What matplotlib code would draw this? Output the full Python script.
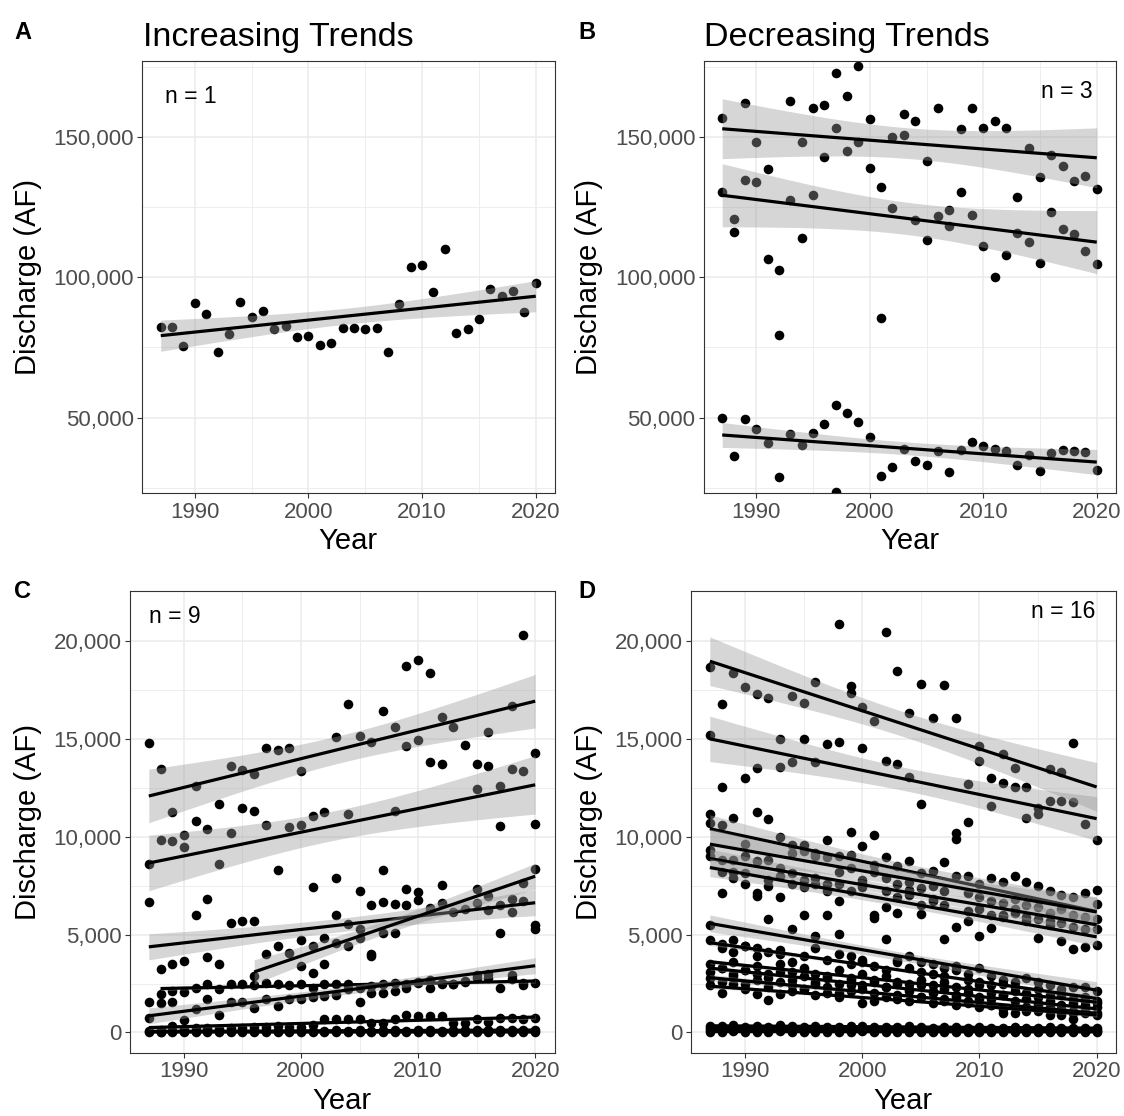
import numpy as np
import matplotlib
matplotlib.use("Agg")
import matplotlib.pyplot as plt
from matplotlib.ticker import FixedLocator, FuncFormatter

nan = float('nan')
YEARS = list(range(1987, 2021))

# ---------------- Panel A (acre-feet) ----------------
a_vals = [82400, 82400, 75500, 90850, 86940, 73400, 79900, 91100, 86000, 88000,
          81600, 82700, 78600, 79000, 75800, 76600, 82100, 81800, 81600, 81800,
          73400, 90400, 103800, 104500, 94900, 109900, 80000, 81500, 85000, 95700,
          93500, 95200, 87800, 98000]

# ---------------- Panel B (acre-feet) ----------------
b_top = [156600, 120700, 162000, 148300, 138400, 102500, 162900, 148200, 160100, 161400,
         172800, 164600, 175100, 156400, 132300, 149800, 158300, 155800, 141300, 160100,
         124000, 152800, 160200, 153300, 155800, 153100, 128600, 146100, 135600, 143500,
         139700, 134100, 136000, 131600]
b_mid = [130300, 116000, 134700, 134000, 106400, 79600, 127600, 113800, 129200, 142800,
         153200, 144800, 148000, 138800, 85400, 124700, 150600, 120400, 113200, 121700,
         118100, 130200, 122200, 111300, 100200, 108100, 115900, 112500, 105000, 123200,
         117100, 115400, 109500, 104800]
b_low = [50000, 36460, 49400, 45960, 41090, 28730, 44300, 40260, 44650, 47860,
         54510, 51780, 48460, 43230, 29090, 32300, 38950, 34560, 33250, 38000,
         30640, 38600, 41210, 40020, 38710, 38240, 33010, 36580, 30870, 37410,
         38360, 38120, 37650, 31350]
b_low_extra_years = [1997]
b_low_extra_vals = [23630]

# ---------------- Panel C (thousand acre-feet) ----------------
c1 = [14.77, 13.45, 11.27, 10.10, 12.60, 10.39, 11.68, 13.62, 13.41, 13.19,
      14.52, 14.43, 14.55, 13.33, 11.04, 11.24, 15.08, 16.78, 15.16, 14.86,
      16.44, 15.62, 18.71, 19.05, 18.34, 16.10, 15.62, 14.69, 13.70, 15.33,
      12.60, 16.70, 20.32, 14.30]
c2 = [8.61, 9.85, 9.76, 9.49, 10.82, 6.84, 8.61, 10.19, 11.46, 11.33,
      10.60, 8.32, 10.48, 10.60, 7.45, nan, 7.88, 11.17, 7.25, 6.49,
      8.32, 11.29, 14.64, 14.94, 13.80, 13.72, nan, nan, 12.43, 13.63,
      10.55, 13.45, 13.36, 10.65]
c3 = [6.67, 3.23, 3.51, 3.65, 5.99, 3.85, 3.51, 5.57, 5.69, 5.69,
      nan, nan, nan, 4.72, 4.41, 4.84, 5.99, 5.52, 5.26, 4.00,
      6.67, 6.54, 6.49, 6.76, 6.37, 6.62, 6.15, 6.32, 6.59, 6.25,
      nan, 6.15, 6.71, 5.47]
c4_years = list(range(1996, 2021))
c4 = [2.90, 3.99, 4.41, 4.07, 3.40, 3.06, 3.48, 4.58, 4.41, 4.84,
      3.90, 5.09, 5.09, 7.33, 7.18, 6.20, 7.52, nan, nan, 7.33,
      6.96, 6.49, 6.83, 7.64, 8.35]
c5_years = list(range(1988, 2021))
c5 = [1.95, 2.12, 2.09, 2.29, 2.50, 2.21, 2.46, 2.50, 2.43, 2.55,
      2.46, 2.43, 2.50, 2.29, 2.46, 2.46, 2.46, 2.29, 2.38, 2.50,
      2.55, 2.29, 2.55, 2.29, 2.50, 2.46, 2.63, 2.80, 2.80, 2.29,
      2.75, 2.55, 2.55]
c6 = [1.58, 1.48, 1.53, 0.63, 1.22, 1.70, 0.88, 1.53, 1.53, 1.27,
      1.73, 1.36, 1.70, 1.70, 1.83, 1.87, 1.90, 2.21, 1.53, 2.04,
      2.00, 2.12, 2.45, 2.60, 2.70, 2.55, 2.50, 2.60, 2.95, 3.00,
      5.09, 2.95, 2.40, 5.26]
c7 = [0.76, 0.15, 0.34, 0.20, 0.25, 0.25, 0.20, 0.25, 0.25, 0.30,
      0.30, 0.35, 0.30, 0.30, 0.40, 0.70, 0.70, 0.68, 0.68, 0.50,
      0.50, 0.68, 0.88, 0.84, 0.84, 0.84, 0.50, 0.50, 0.68, 0.55,
      0.72, 0.75, 0.70, 0.72]
c8 = [0.05, 0.03, 0.08, 0.05, 0.06, 0.10, 0.05, 0.07, 0.06, 0.08,
      0.05, 0.09, 0.07, 0.10, 0.08, 0.06, 0.10, 0.08, 0.12, 0.09,
      0.10, 0.12, 0.08, 0.10, 0.11, 0.09, 0.12, 0.10, 0.13, 0.11,
      0.10, 0.12, 0.14, 0.12]
c9 = [0.02, 0.01, 0.03, 0.02, 0.01, 0.02, 0.03, 0.02, 0.01, 0.02,
      0.03, 0.02, 0.02, 0.01, 0.03, 0.02, 0.02, 0.03, 0.02, 0.01,
      0.02, 0.03, 0.02, 0.02, 0.03, 0.02, 0.01, 0.02, 0.03, 0.02,
      0.02, 0.03, 0.02, 0.02]

# ---------------- Panel D (thousand acre-feet) ----------------
d1 = [18.68, 16.76, 18.37, 17.66, 17.27, 17.06, 14.99, 17.18, 16.84, 17.91,
      14.74, 20.88, 17.69, 16.60, 15.93, 20.44, 18.46, 16.33, 17.78, 16.08,
      17.73, 16.08, 12.68, 14.65, 13.02, 14.21, 13.53, 12.56, 11.46, 13.45,
      13.28, 14.80, 10.65, 9.81]
d2 = [15.18, 12.56, nan, 13.02, 13.53, nan, 13.58, 13.84, 15.01, 13.84,
      nan, 14.84, 17.32, 14.52, nan, 13.89, 13.72, 13.07, 11.66, nan,
      nan, nan, 10.75, 13.89, 11.55, 12.73, 12.56, 10.95, 11.15, 11.83,
      11.80, 11.75, nan, 7.30]
d3 = [11.17, 8.83, 10.93, 8.15, 11.24, 10.90, 9.98, 8.15, 9.56, 9.00,
      9.85, 7.60, 10.22, 7.80, 10.10, 7.22, 8.49, 7.70, 8.15, 6.80,
      8.69, 9.88, 7.98, 6.30, 7.90, 6.60, 7.98, 5.90, 7.50, 6.10,
      7.00, 5.40, 7.10, 5.80]
d4 = [10.70, 10.58, 7.90, 9.64, 8.74, 8.80, 6.91, 9.56, 9.29, 9.17,
      7.20, 9.03, 9.05, 9.54, 5.98, 8.95, 7.60, 8.78, 6.03, 8.23,
      7.20, 10.19, 5.69, 7.60, 6.70, 7.70, 6.10, 7.67, 6.40, 7.20,
      4.67, 6.90, 5.90, 6.54]
d5 = [9.34, 7.10, 8.83, 9.00, 7.10, 7.50, 8.40, 9.17, 7.80, 7.56,
      8.95, 8.20, 8.40, 7.42, 8.57, 7.90, 6.90, 7.00, 7.40, 7.50,
      6.50, 5.40, 7.10, 6.90, 6.00, 5.90, 6.80, 6.50, 5.80, 5.50,
      6.30, 6.00, 5.30, 4.45]
d6 = [9.00, 8.18, 8.18, 7.56, 6.96, 7.81, 8.00, 7.60, 7.42, 7.90,
      7.56, 6.71, 7.22, 7.64, 8.20, 6.42, 6.11, 7.30, 6.50, 6.70,
      4.75, 7.98, 6.20, 4.92, 5.31, 6.00, 6.30, 5.70, 4.84, 5.70,
      5.60, 4.28, 4.38, 5.26]
d7 = [5.50, 4.50, 4.70, 4.40, 4.30, 5.82, 4.20, 5.26, 5.99, 4.92,
      5.99, 5.01, 3.90, 3.70, 5.86, 4.75, 3.70, 3.90, 3.60, 3.50,
      3.30, 3.40, 3.00, 3.30, 2.90, 2.70, 2.60, 2.80, 2.60, 2.40,
      2.20, 2.30, 2.30, 2.10]
d8 = [4.70, 4.30, 4.10, 4.40, 3.90, 4.10, 4.00, 3.60, 3.90, 4.30,
      3.70, 4.00, 3.50, 3.60, 3.40, 3.20, 3.60, 3.30, 3.10, 3.00,
      2.90, 3.20, 2.70, 2.60, 2.40, 2.50, 2.30, 2.00, 2.20, 1.90,
      2.00, 1.70, 1.80, 1.60]
d9 = [3.50, 3.30, 3.60, 3.20, 3.40, 3.00, 3.50, 3.10, 3.30, 3.00,
      2.90, 3.20, 2.80, 3.00, 2.70, 2.90, 2.60, 2.50, 2.70, 2.40,
      2.60, 2.30, 2.20, 2.40, 2.00, 1.90, 2.10, 1.70, 1.80, 1.60,
      1.90, 1.50, 1.60, 1.50]
d10 = [3.10, 3.30, 2.90, 3.20, 3.00, 2.80, 3.10, 2.70, 2.90, 2.60,
       2.80, 2.50, 2.70, 2.40, 2.60, 2.30, 2.50, 2.20, 2.40, 2.10,
       2.20, 1.90, 2.00, 1.80, 1.70, 1.90, 1.60, 1.20, 1.50, 1.30,
       1.40, 1.10, 1.40, 1.30]
d11 = [2.80, 2.60, 3.00, 2.50, 2.70, 1.65, 2.60, 2.40, 2.20, 2.50,
       2.30, 2.00, 2.40, 2.20, 2.00, 2.30, 1.90, 2.10, 1.80, 2.00,
       1.70, 1.80, 1.60, 1.70, 1.40, 1.00, 1.30, 1.10, 1.40, 0.90,
       1.20, 1.00, 1.10, 1.00]
d12 = [2.40, 2.00, 2.50, 2.20, 1.95, 2.30, 1.95, 2.10, 2.20, 1.90,
       2.00, 1.80, 2.10, 1.50, 1.60, 1.80, 1.70, 1.60, 1.80, 1.50,
       1.60, 1.40, 1.50, 1.30, 1.40, 1.20, 1.00, 1.30, 1.10, 1.20,
       0.90, 0.68, 1.00, 0.90]
d13 = [0.35, 0.32, 0.38, 0.30, 0.33, 0.28, 0.36, 0.31, 0.29, 0.34,
       0.30, 0.27, 0.33, 0.31, 0.26, 0.30, 0.28, 0.32, 0.27, 0.25,
       0.29, 0.26, 0.24, 0.28, 0.25, 0.23, 0.27, 0.24, 0.22, 0.26,
       0.23, 0.21, 0.25, 0.22]
d14 = [0.22, 0.25, 0.20, 0.24, 0.21, 0.19, 0.23, 0.20, 0.22, 0.18,
       0.21, 0.19, 0.22, 0.17, 0.20, 0.18, 0.19, 0.16, 0.19, 0.17,
       0.18, 0.15, 0.18, 0.16, 0.17, 0.14, 0.16, 0.15, 0.16, 0.13,
       0.15, 0.14, 0.15, 0.13]
d15 = [0.12, 0.10, 0.14, 0.11, 0.13, 0.10, 0.12, 0.09, 0.11, 0.10,
       0.12, 0.09, 0.10, 0.11, 0.08, 0.10, 0.09, 0.11, 0.08, 0.09,
       0.10, 0.07, 0.09, 0.08, 0.09, 0.07, 0.08, 0.09, 0.07, 0.08,
       0.07, 0.08, 0.06, 0.07]
d16 = [0.04, 0.03, 0.05, 0.04, 0.03, 0.04, 0.05, 0.03, 0.04, 0.03,
       0.04, 0.03, 0.04, 0.05, 0.03, 0.04, 0.03, 0.04, 0.03, 0.04,
       0.03, 0.04, 0.03, 0.02, 0.03, 0.04, 0.03, 0.02, 0.03, 0.03,
       0.02, 0.03, 0.02, 0.03]

TITLES = ["Increasing Trends", "Decreasing Trends"]
TAGS = ["A", "B", "C", "D"]
NOTES = ["n = 1", "n = 3", "n = 9", "n = 16"]
X_MAJOR = [1990, 2000, 2010, 2020]
X_MINOR = [1995, 2005, 2015]
AB_MAJOR = [50000, 100000, 150000]
AB_MINOR = [25000, 75000, 125000, 175000]
CD_MAJOR = [0, 5000, 10000, 15000, 20000]
CD_MINOR = [2500, 7500, 12500, 17500]

W, H = 1124, 1116
FONT = "Liberation Sans"
plt.rcParams['font.family'] = [FONT, 'DejaVu Sans']

fig = plt.figure(figsize=(W / 100, H / 100), dpi=100)


def px_axes(l, t, r, b):
    return fig.add_axes([l / W, 1 - b / H, (r - l) / W, (b - t) / H])


def tq975(df):
    z = 1.959964
    return (z + (z ** 3 + z) / (4 * df)
            + (5 * z ** 5 + 16 * z ** 3 + 3 * z) / (96 * df ** 2)
            + (3 * z ** 7 + 19 * z ** 5 + 17 * z ** 3 - 15 * z) / (384 * df ** 3))


def lm_band(years, vals):
    x = np.asarray(years, float)
    y = np.asarray(vals, float)
    m = np.isfinite(y)
    x, y = x[m], y[m]
    n = len(x)
    b, a = np.polyfit(x, y, 1)
    xs = np.linspace(x.min(), x.max(), 80)
    yh = a + b * xs
    s = np.sqrt(np.sum((y - (a + b * x)) ** 2) / (n - 2))
    sxx = np.sum((x - x.mean()) ** 2)
    se = s * np.sqrt(1.0 / n + (xs - x.mean()) ** 2 / sxx)
    t = tq975(n - 2)
    return xs, yh, yh - t * se, yh + t * se


def draw_panel(ax, series, scale, ylim, ymaj, ymin):
    for yrs, vals in series:
        ax.scatter(yrs, np.asarray(vals, float) * scale, s=48, c='black',
                   linewidths=0, zorder=2)
    z = 3
    for yrs, vals in series:
        xs, yh, lo, hi = lm_band(yrs, np.asarray(vals, float) * scale)
        ax.fill_between(xs, lo, hi, color='#999999', alpha=0.4, linewidth=0, zorder=z)
        ax.plot(xs, yh, color='black', lw=2.3, zorder=z + 1, solid_capstyle='butt')
        z += 2
    ax.set_xlim(1985.35, 2021.65)
    ax.set_ylim(*ylim)
    ax.xaxis.set_major_locator(FixedLocator(X_MAJOR))
    ax.xaxis.set_minor_locator(FixedLocator(X_MINOR))
    ax.yaxis.set_major_locator(FixedLocator(ymaj))
    ax.yaxis.set_minor_locator(FixedLocator(ymin))
    ax.yaxis.set_major_formatter(FuncFormatter(lambda v, p: f"{int(round(v)):,}"))
    ax.grid(which='major', color='#EBEBEB', lw=1.1, zorder=0)
    ax.grid(which='minor', color='#EBEBEB', lw=0.6, zorder=0)
    ax.set_axisbelow(True)
    for sp in ax.spines.values():
        sp.set_color('#333333')
        sp.set_linewidth(0.8)
    ax.tick_params(which='major', length=3.3, width=0.8, color='#333333',
                   labelsize=16, labelcolor='#4D4D4D', pad=2.5)
    ax.tick_params(which='minor', length=0)


def ftext(x, y, s, **kw):
    fig.text(x / W, 1 - y / H, s, **kw)


# Panels
axA = px_axes(142, 61, 554.5, 493.5)
draw_panel(axA, [(YEARS, a_vals)], 1, (23000, 177000), AB_MAJOR, AB_MINOR)

axB = px_axes(703.5, 61, 1115.5, 493.5)
draw_panel(axB, [(YEARS, b_top), (YEARS, b_mid),
                 (YEARS + b_low_extra_years, b_low + b_low_extra_vals)],
           1, (23000, 177000), AB_MAJOR, AB_MINOR)

axC = px_axes(129.5, 591, 554.5, 1053)
draw_panel(axC, [(YEARS, c1), (YEARS, c2), (YEARS, c3), (c4_years, c4),
                 (c5_years, c5), (YEARS, c6), (YEARS, c7), (YEARS, c8), (YEARS, c9)],
           1000, (-1050, 22550), CD_MAJOR, CD_MINOR)

axD = px_axes(690.5, 591, 1116, 1053)
draw_panel(axD, [(YEARS, s) for s in [d1, d2, d3, d4, d5, d6, d7, d8, d9, d10,
                                      d11, d12, d13, d14, d15, d16]],
           1000, (-1050, 22550), CD_MAJOR, CD_MINOR)

# Tags and titles
for (x, y), tag in zip([(14, 39), (578, 39), (14, 598), (578, 598)], TAGS):
    ftext(x, y, tag, fontsize=17, fontweight='bold', ha='left', va='baseline')
ftext(143, 46, TITLES[0], fontsize=24.5, ha='left', va='baseline')
ftext(704, 46, TITLES[1], fontsize=24.5, ha='left', va='baseline')

# n annotations
ftext(165, 103, NOTES[0], fontsize=16.5, ha='left', va='baseline')
ftext(1093, 98, NOTES[1], fontsize=16.5, ha='right', va='baseline')
ftext(149, 623, NOTES[2], fontsize=16.5, ha='left', va='baseline')
ftext(1095, 618, NOTES[3], fontsize=16.5, ha='right', va='baseline')

# Axis titles
for (x, y) in [(28, 277), (589, 277), (28, 822), (589, 822)]:
    ftext(x, y, "Discharge (AF)", fontsize=21, rotation=90, ha='center', va='center')
for (x, y) in [(348, 541), (909.5, 541), (342, 1101), (903, 1101)]:
    ftext(x, y, "Year", fontsize=21, ha='center', va='center')

fig.savefig("out.png", dpi=100, facecolor='white')
